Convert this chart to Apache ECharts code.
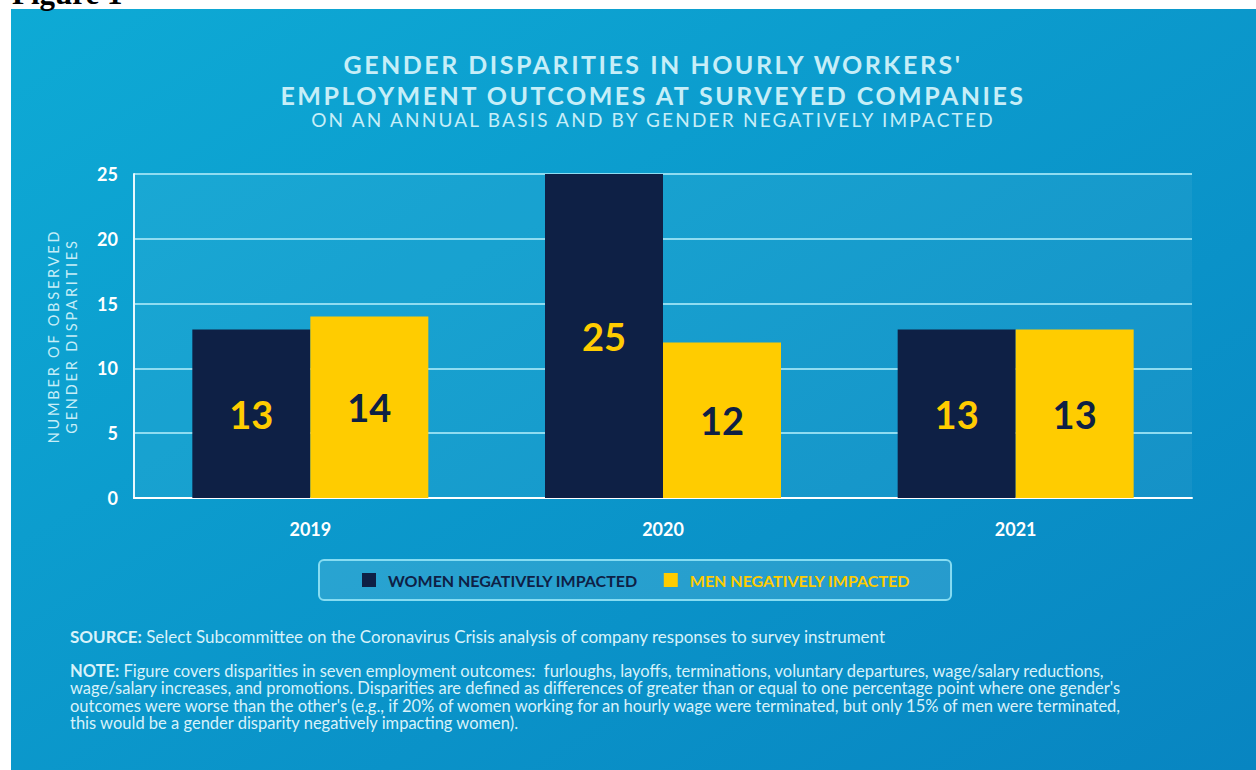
<!DOCTYPE html>
<html>
<head>
<meta charset="utf-8">
<script src="https://cdn.jsdelivr.net/npm/echarts@6/dist/echarts.min.js"></script>
<style>
  html, body { margin: 0; padding: 0; background: #fff; }
  #chart { width: 1256px; height: 770px; }
  /* spaced-out caps for the headings and the axis name */
  #chart text[style*="25px"] { letter-spacing: 2.5px; }
  #chart text[style*="19px"] { letter-spacing: 2.2px; }
  #chart text[style*="14.5px"] { letter-spacing: 2.8px; }
</style>
</head>
<body>
<div id="chart"></div>
<script>
const years = ['2019', '2020', '2021']
const women = [13, 25, 13]
const men = [14, 12, 13]
const seriesNames = ['WOMEN NEGATIVELY IMPACTED', 'MEN NEGATIVELY IMPACTED']

const titleLines = "GENDER DISPARITIES IN HOURLY WORKERS'\nEMPLOYMENT OUTCOMES AT SURVEYED COMPANIES"
const subtitle = 'ON AN ANNUAL BASIS AND BY GENDER NEGATIVELY IMPACTED'
const yName = 'NUMBER OF OBSERVED\nGENDER DISPARITIES'
const sourceText = 'Select Subcommittee on the Coronavirus Crisis analysis of company responses to survey instrument'
const noteLines = [
  'Figure covers disparities in seven employment outcomes:  furloughs, layoffs, terminations, voluntary departures, wage/salary reductions,',
  "wage/salary increases, and promotions. Disparities are defined as differences of greater than or equal to one percentage point where one gender's",
  "outcomes were worse than the other's (e.g., if 20% of women working for an hourly wage were terminated, but only 15% of men were terminated,",
  'this would be a gender disparity negatively impacting women).',
]

const NAVY = '#0e2045'
const GOLD = '#ffcc00'
const PALE = '#c6eef8'

const chart = echarts.init(document.getElementById('chart'), null, { renderer: 'svg' })

const option = {
  animation: false,
  title: [
    {
      text: titleLines,
      subtext: subtitle,
      left: 648,
      top: 43,
      textAlign: 'center',
      itemGap: 0,
      textStyle: { fontFamily: 'Lato', fontWeight: 'bold', fontSize: 25, lineHeight: 31, color: PALE },
      subtextStyle: { fontFamily: 'Lato', fontWeight: 'normal', fontSize: 19, color: PALE },
    },
  ],
  legend: {
    data: [
      { name: seriesNames[0], textStyle: { color: NAVY } },
      { name: seriesNames[1], textStyle: { color: GOLD } },
    ],
    left: 319,
    top: 560,
    icon: 'rect',
    itemWidth: 14,
    itemHeight: 14,
    itemGap: 26,
    padding: [12, 41, 12, 43],
    backgroundColor: 'rgba(255,255,255,0.12)',
    borderColor: '#86dcf2',
    borderWidth: 2,
    borderRadius: 5,
    selectedMode: false,
    textStyle: { fontFamily: 'Lato', fontWeight: 'bold', fontSize: 16, padding: [0, 0, 0, 7] },
  },
  grid: {
    left: 134, right: 64, top: 174, bottom: 272,
    show: true,
    backgroundColor: 'rgba(255,255,255,0.05)',
    borderWidth: 0,
  },
  xAxis: {
    type: 'category',
    data: years,
    axisLine: { lineStyle: { color: '#ffffff', width: 2 } },
    axisTick: { show: false },
    axisLabel: { color: '#ffffff', fontFamily: 'Lato', fontWeight: 'bold', fontSize: 18, margin: 22 },
  },
  yAxis: {
    type: 'value',
    min: 0,
    max: 25,
    interval: 5,
    name: yName,
    nameLocation: 'middle',
    nameRotate: 90,
    nameGap: 54,
    nameTextStyle: { color: PALE, fontFamily: 'Lato', fontSize: 14.5, lineHeight: 18 },
    axisLine: { show: true, lineStyle: { color: '#e8f8fd', width: 2 } },
    axisTick: { show: false },
    axisLabel: { color: '#ffffff', fontFamily: 'Lato', fontWeight: 'bold', fontSize: 18, margin: 16 },
    splitLine: { lineStyle: { color: '#8fdcf1', width: 2 } },
  },
  series: [
    {
      name: seriesNames[0],
      type: 'bar',
      data: women,
      barWidth: 118,
      barGap: '0%',
      itemStyle: { color: NAVY },
      label: {
        show: true, position: 'inside', color: GOLD,
        fontFamily: 'Lato', fontWeight: 'bold', fontSize: 38,
      },
    },
    {
      name: seriesNames[1],
      type: 'bar',
      data: men,
      barWidth: 118,
      barGap: '0%',
      itemStyle: { color: GOLD },
      label: {
        show: true, position: 'inside', color: NAVY,
        fontFamily: 'Lato', fontWeight: 'bold', fontSize: 38,
      },
    },
  ],
  graphic: [
    {
      type: 'rect',
      z: -10,
      silent: true,
      shape: { x: 11, y: 9, width: 1245, height: 761 },
      style: {
        fill: new echarts.graphic.LinearGradient(0, 0, 1, 1, [
          { offset: 0, color: '#0eaad5' },
          { offset: 1, color: '#0885c1' },
        ]),
      },
    },
    {
      type: 'text',
      left: 12,
      top: -22,
      style: {
        text: 'Figure 1',
        font: 'bold 31px "Liberation Serif"',
        fill: '#000000',
      },
    },
    {
      type: 'text',
      left: 70,
      top: 628,
      style: {
        text: '{b|SOURCE:} ' + sourceText,
        fill: '#d8f2fa',
        font: '17px Lato',
        rich: { b: { fontFamily: 'Lato', fontWeight: 'bold', fontSize: 17, fill: '#d8f2fa' } },
      },
    },
    {
      type: 'text',
      left: 70,
      top: 662,
      style: {
        text: '{b|NOTE:} ' + noteLines.join('\n'),
        fill: '#d8f2fa',
        font: '16.5px Lato',
        lineHeight: 17.5,
        rich: { b: { fontFamily: 'Lato', fontWeight: 'bold', fontSize: 16.5, fill: '#d8f2fa', lineHeight: 17.5 } },
      },
    },
  ],
}

chart.setOption(option)
</script>
</body>
</html>
